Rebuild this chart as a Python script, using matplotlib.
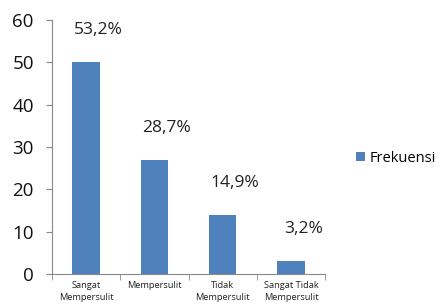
import matplotlib
matplotlib.use("Agg")
import matplotlib.pyplot as plt
import numpy as np

categories = ["Sangat\nMempersulit", "Mempersulit", "Tidak\nMempersulit", "Sangat Tidak\nMempersulit"]
frekuensi = [50, 27, 14, 3]
persen = ["53,2%", "28,7%", "14,9%", "3,2%"]

plt.rcParams['font.family'] = ['Open Sans', 'DejaVu Sans']

fig = plt.figure(figsize=(4.4, 3.07), dpi=100)
ax = fig.add_axes([0.118, 0.107, 0.621, 0.828])

x = np.arange(len(categories))
bars = ax.bar(x, frekuensi, width=0.4, color='#4F81BD', label='Frekuensi')

for xi, v, p in zip(x, frekuensi, persen):
    ax.annotate(p, (xi, v), xytext=(9, 23), textcoords='offset points',
                ha='center', va='center', fontsize=12.5, color='#222222')

ax.set_xlim(-0.5, len(categories) - 0.5)
ax.set_ylim(0, 60)
ax.set_yticks(range(0, 61, 10))
ax.tick_params(axis='y', labelsize=13.5, length=4, color='#888888', pad=9,
               labelcolor='#111111')

ax.set_xticks(x)
ax.set_xticklabels(categories, fontsize=6.7, linespacing=1.45, color='#222222')
ax.tick_params(axis='x', length=0, pad=5)
ax.set_xticks(np.arange(-0.5, len(categories)), minor=True)
ax.tick_params(axis='x', which='minor', length=4, color='#888888')

for s in ['top', 'right']:
    ax.spines[s].set_visible(False)
for s in ['left', 'bottom']:
    ax.spines[s].set_color('#888888')

fig.legend(handles=[bars], labels=['Frekuensi'], loc='center left',
           bbox_to_anchor=(0.78, 0.485), frameon=False, fontsize=10.5,
           handlelength=0.6, handleheight=0.6, handletextpad=0.3)

fig.savefig("out.png", dpi=100)
